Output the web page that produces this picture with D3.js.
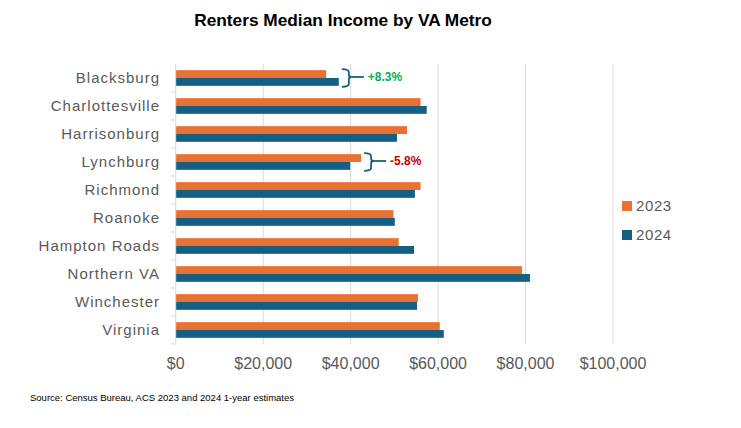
<!DOCTYPE html>
<html>
<head>
<meta charset="utf-8">
<script src="https://cdn.jsdelivr.net/npm/d3@7"></script>
<style>
  body { margin: 0; background: #fff; }
  svg { display: block; }
</style>
</head>
<body>
<svg id="chart" width="741" height="428"></svg>
<script>
// chart data
var metros = ["Blacksburg", "Charlottesville", "Harrisonburg", "Lynchburg", "Richmond",
              "Roanoke", "Hampton Roads", "Northern VA", "Winchester", "Virginia"];
var years = ["2023", "2024"];
var income2023 = [34400, 56000, 52900, 42400, 56000, 49800, 51000, 79200, 55400, 60400];
var income2024 = [37300, 57400, 50600, 39900, 54700, 50100, 54500, 81000, 55200, 61300];
var xTicks = [0, 20000, 40000, 60000, 80000, 100000];
// change callouts
var callouts = [
    {metro: "Blacksburg", label: "+8.3%", color: "#00b050"},
    {metro: "Lynchburg", label: "-5.8%", color: "#c00000"}
];

var colors = {"2023": "#e97132", "2024": "#156082"};
var font = "Liberation Sans, Arial, sans-serif";

var svg = d3.select("#chart");
var plotLeft = 175.7, plotRight = 613, plotTop = 64, plotBottom = 344;

var x = d3.scaleLinear().domain([0, 100000]).range([plotLeft, plotRight]);
var y = d3.scaleBand().domain(metros).range([plotTop, plotBottom])
    .paddingInner(0.44).paddingOuter(0.22);
var yy = d3.scaleBand().domain(years).range([0, y.bandwidth()]);

// title
svg.append("text")
    .attr("x", 343).attr("y", 26)
    .attr("text-anchor", "middle")
    .style("font-family", font)
    .style("font-weight", "bold")
    .style("font-size", "17.3px")
    .attr("fill", "#000")
    .text("Renters Median Income by VA Metro");

// gridlines
svg.append("g").selectAll("line").data(xTicks.slice(1))
    .enter().append("line")
    .attr("x1", d => x(d)).attr("x2", d => x(d))
    .attr("y1", plotTop).attr("y2", plotBottom)
    .attr("stroke", "#d9d9d9").attr("stroke-width", 1);

// bars
var rows = metros.map((m, i) => ({metro: m, vals: [
    {year: "2023", v: income2023[i]},
    {year: "2024", v: income2024[i]}
]}));

var groups = svg.append("g").selectAll("g").data(rows)
    .enter().append("g")
    .attr("transform", d => `translate(0,${y(d.metro)})`);
groups.selectAll("rect").data(d => d.vals)
    .enter().append("rect")
    .attr("x", x(0))
    .attr("y", d => yy(d.year))
    .attr("width", d => x(d.v) - x(0))
    .attr("height", yy.bandwidth())
    .attr("fill", d => colors[d.year]);

// category axis with boundary ticks
var boundaries = metros.map(m => y(m) - y.step() * y.paddingOuter()).concat([plotBottom]);
var yAxis = svg.append("g");
yAxis.append("line")
    .attr("x1", plotLeft).attr("x2", plotLeft).attr("y1", plotTop).attr("y2", plotBottom)
    .attr("stroke", "#d9d9d9");
yAxis.selectAll("line.tk").data(boundaries.slice(1))
    .enter().append("line").attr("class", "tk")
    .attr("x1", plotLeft - 5).attr("x2", plotLeft)
    .attr("y1", d => d).attr("y2", d => d)
    .attr("stroke", "#d9d9d9");
yAxis.selectAll("text").data(metros)
    .enter().append("text")
    .attr("x", 160)
    .attr("y", d => y(d) + y.bandwidth() / 2 - 0.5)
    .attr("dy", "0.35em")
    .attr("text-anchor", "end")
    .style("font-family", font)
    .style("font-size", "15px")
    .style("letter-spacing", "1px")
    .attr("fill", "#595959")
    .text(d => d);

// value axis labels
svg.append("g").selectAll("text").data(xTicks)
    .enter().append("text")
    .attr("x", d => x(d))
    .attr("y", 363)
    .attr("dy", "0.35em")
    .attr("text-anchor", "middle")
    .style("font-family", font)
    .style("font-size", "16px")
    .attr("fill", "#595959")
    .text(d => "$" + d3.format(",")(d));

// braces with % change
callouts.forEach(c => {
    var i = metros.indexOf(c.metro);
    var bx = x(Math.max(income2023[i], income2024[i])) + 3;
    var y0 = y(c.metro) - 1, y1 = y(c.metro) + y.bandwidth() + 1;
    var ym = (y0 + y1) / 2 - 1;
    var w = 10;
    var path = `M${bx},${y0} Q${bx + w * 0.7},${y0} ${bx + w * 0.7},${y0 + 3}`
        + ` L${bx + w * 0.7},${ym - 2} Q${bx + w * 0.7},${ym} ${bx + w},${ym}`
        + ` Q${bx + w * 0.7},${ym} ${bx + w * 0.7},${ym + 2}`
        + ` L${bx + w * 0.7},${y1 - 3} Q${bx + w * 0.7},${y1} ${bx},${y1}`;
    svg.append("path").attr("d", path)
        .attr("fill", "none").attr("stroke", "#156082").attr("stroke-width", 1.8);
    svg.append("line")
        .attr("x1", bx + w).attr("x2", bx + w + 12)
        .attr("y1", ym).attr("y2", ym)
        .attr("stroke", "#156082").attr("stroke-width", 1.8);
    svg.append("text")
        .attr("x", bx + w + 16).attr("y", ym)
        .attr("dy", "0.35em")
        .style("font-family", font)
        .style("font-weight", "bold")
        .style("font-size", "12px")
        .attr("fill", c.color)
        .text(c.label);
});

// legend
var legend = svg.append("g").selectAll("g").data(years)
    .enter().append("g")
    .attr("transform", (d, i) => `translate(622,${206 + i * 29})`);
legend.append("rect")
    .attr("x", 0).attr("y", -5).attr("width", 10).attr("height", 10)
    .attr("fill", d => colors[d]);
legend.append("text")
    .attr("x", 14).attr("y", 0).attr("dy", "0.35em")
    .style("font-family", font)
    .style("font-size", "15px")
    .style("letter-spacing", "0.6px")
    .attr("fill", "#595959")
    .text(d => d);

// source note
svg.append("text")
    .attr("x", 30).attr("y", 401)
    .style("font-family", "Liberation Sans Narrow, Arial Narrow, sans-serif")
    .style("font-size", "9.5px")
    .attr("fill", "#000")
    .text("Source: Census Bureau, ACS 2023 and 2024 1-year estimates");
</script>
</body>
</html>
